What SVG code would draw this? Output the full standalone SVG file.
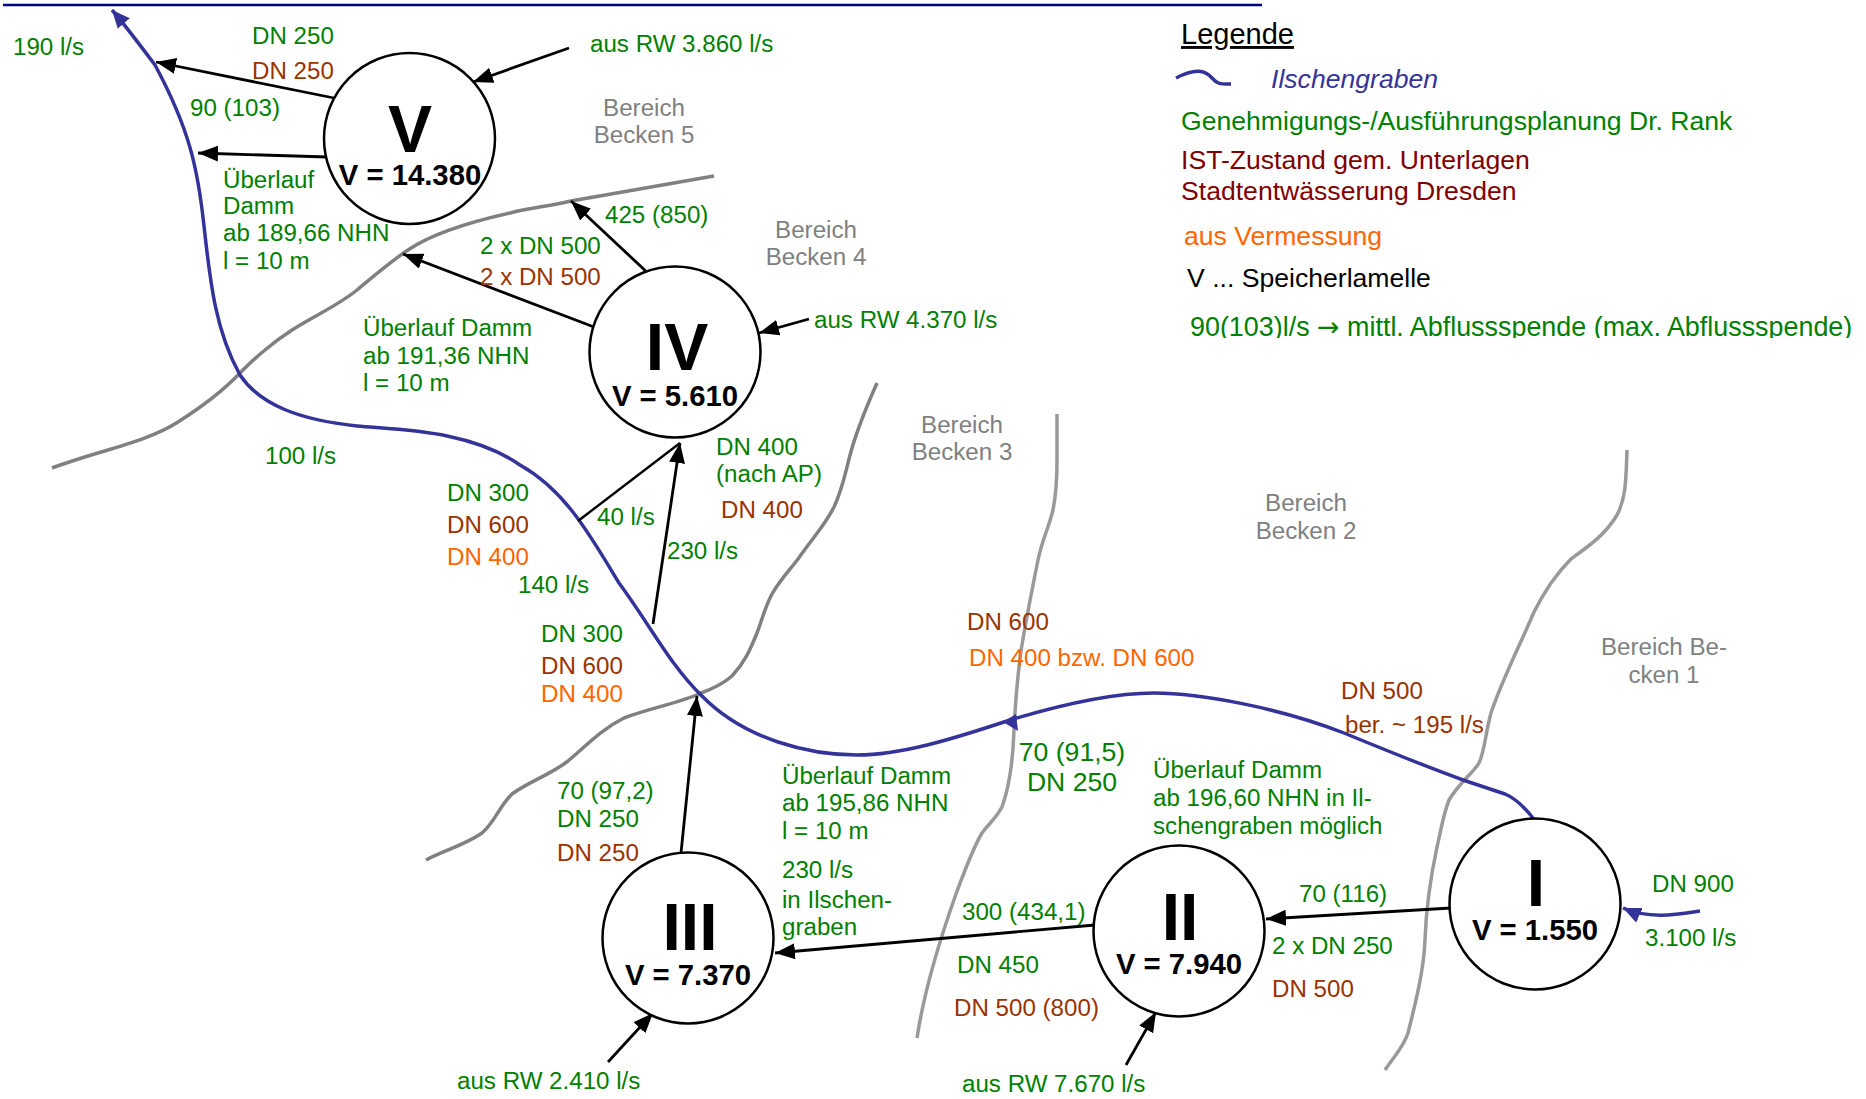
<svg xmlns="http://www.w3.org/2000/svg" width="1866" height="1099" viewBox="0 0 1866 1099">
<style>
text{font-family:"Liberation Sans",Arial,sans-serif;font-size:24.15px}
.g{fill:#008000}.b{fill:#993300}.o{fill:#ff6600}.y{fill:#808080;text-anchor:middle}.r{fill:#800000}
.c{fill:#fff;stroke:#000;stroke-width:2.5}
.n{font-size:66px;font-weight:bold;text-anchor:middle}.v{font-size:29.3px;font-weight:bold;text-anchor:middle}
.a{fill:none;stroke:#000;stroke-width:2.8;marker-end:url(#ah)}
.l{fill:none;stroke:#000;stroke-width:2.4}
.gr{fill:none;stroke:#808080;stroke-width:3.5}.gl{fill:none;stroke:#999;stroke-width:3.5}
.w{fill:none;stroke:#333399;stroke-width:3.5}
#legend text{font-size:26.6px}
</style>
<defs>
<marker id="ah" markerUnits="userSpaceOnUse" markerWidth="22" markerHeight="18" refX="20" refY="8" orient="auto"><path d="M0 0L20 8L0 16z" fill="#000"/></marker>
<marker id="bh" markerUnits="userSpaceOnUse" markerWidth="20" markerHeight="18" refX="18" refY="8" orient="auto"><path d="M0 0L18 8L0 16z" fill="#333399"/></marker>
<clipPath id="cl"><rect x="1180" y="300" width="686" height="38"/></clipPath>
</defs>
<rect width="1866" height="1099" fill="#fff"/>
<path d="M3 5H1262" stroke="#000080" stroke-width="2.4" fill="none"/>
<g id="boundaries">
<path class="gr" d="M52 468C100 450 145 443 178 422C200 408 222 392 240 373C248 365 255 358 265 350C300 320 330 312 357 290C375 275 390 262 408 250C430 235 470 222 510 213C530 208 550 206 571 201L714 176"/>
<path class="gr" d="M426 860C445 850 465 845 482 833C495 822 498 808 512 794C528 782 550 775 568 761C585 747 600 730 624 718C650 708 680 703 701 693C715 688 725 682 732 676C745 662 750 650 757 633C762 620 765 607 772 594C780 580 788 572 798 559C815 535 825 525 834 507C842 490 845 475 849 459C855 435 865 410 877 383"/>
<path class="gl" d="M1057 414L1057 460C1057 480 1056 495 1053 510C1048 530 1042 540 1038 560C1030 600 1022 640 1020 659C1016 690 1015 710 1014 730C1013 760 1010 785 1002 807C995 820 990 822 982 833C972 850 965 870 956 894C945 925 925 985 917 1038"/>
<path class="gl" d="M1627 450C1626 480 1626 498 1617 515C1605 535 1590 545 1571 559C1555 575 1545 590 1534 612C1520 645 1502 680 1491 713C1485 735 1485 750 1479 763C1474 772 1460 782 1449 800C1443 815 1440 835 1437 847C1430 880 1426 910 1425 940C1424 970 1415 1005 1408 1033C1403 1048 1395 1055 1385 1070"/>
</g>
<g id="connectors">
<path class="w" style="marker-end:url(#bh)" d="M1533 818C1525 808 1515 798 1505 794L1466 781C1430 768 1390 752 1344 733C1280 708 1200 693 1154 693C1110 693 1050 708 1010 720C950 740 900 755 857 755C810 755 745 740 702 696C670 665 650 625 619 583C590 535 565 490 520 465C470 430 400 430 357 426C300 420 260 405 240 375C215 330 210 280 204 226C198 170 190 130 155 65C140 45 125 25 112 10"/>
<path fill="#333399" d="M1003 722L1016 714L1018 731z"/>
<path class="w" style="marker-end:url(#bh)" d="M1700 911C1680 914 1650 920 1623 908"/>
<path class="a" d="M334 98L156 62"/>
<path class="a" d="M327 157L198 153"/>
<path class="a" d="M569 48L473 82"/>
<path class="a" d="M650 275L571 201"/>
<path class="a" d="M594 327L403 254"/>
<path class="a" d="M809 319L759 333"/>
<path class="l" d="M578 521L680 443"/>
<path class="a" d="M653 624L680 443"/>
<path class="a" d="M681 853L697 696"/>
<path class="a" d="M608 1062L653 1013"/>
<path class="a" d="M1095 925L775 953"/>
<path class="a" d="M1126 1065L1156 1012"/>
<path class="a" d="M1451 908L1266 919"/>
</g>
<g id="node-v"><circle class="c" cx="409.5" cy="138.5" r="85.5"/><text class="n" x="410" y="152">V</text><text class="v" x="410" y="185">V = 14.380</text></g>
<g id="node-iv"><circle class="c" cx="675" cy="352" r="85.5"/><text class="n" x="677" y="370">IV</text><text class="v" x="675" y="406">V = 5.610</text></g>
<g id="node-iii"><circle class="c" cx="688" cy="938" r="85.5"/><text class="n" x="690" y="950">III</text><text class="v" x="688" y="985">V = 7.370</text></g>
<g id="node-ii"><circle class="c" cx="1179" cy="931" r="85.5"/><text class="n" x="1180" y="940">II</text><text class="v" x="1179" y="974">V = 7.940</text></g>
<g id="node-i"><circle class="c" cx="1535" cy="904" r="85.5"/><text class="n" x="1536" y="906">I</text><text class="v" x="1535" y="940">V = 1.550</text></g>
<g id="labels" transform="translate(0 0.3)">
<text class="g" x="13" y="55">190 l/s</text>
<text class="g" x="252" y="44">DN 250</text>
<text class="b" x="252" y="79">DN 250</text>
<text class="g" x="190" y="116">90 (103)</text>
<text class="g" x="590" y="52">aus RW 3.860 l/s</text>
<text class="y" x="644" y="116">Bereich</text><text class="y" x="644" y="143">Becken 5</text>
<text class="g" x="223" y="188">Überlauf</text><text class="g" x="223" y="214">Damm</text><text class="g" x="223" y="241">ab 189,66 NHN</text><text class="g" x="223" y="269">l = 10 m</text>
<text class="g" x="605" y="223">425 (850)</text>
<text class="g" x="480" y="254">2 x DN 500</text>
<text class="b" x="480" y="285">2 x DN 500</text>
<text class="y" x="816" y="238">Bereich</text><text class="y" x="816" y="265">Becken 4</text>
<text class="g" x="363" y="336">Überlauf Damm</text><text class="g" x="363" y="364">ab 191,36 NHN</text><text class="g" x="363" y="391">l = 10 m</text>
<text class="g" x="814" y="328">aus RW 4.370 l/s</text>
<text class="g" x="265" y="464">100 l/s</text>
<text class="g" x="716" y="455">DN 400</text><text class="g" x="716" y="482">(nach AP)</text>
<text class="b" x="721" y="518">DN 400</text>
<text class="y" x="962" y="433">Bereich</text><text class="y" x="962" y="460">Becken 3</text>
<text class="g" x="447" y="501">DN 300</text><text class="b" x="447" y="533">DN 600</text><text class="o" x="447" y="565">DN 400</text>
<text class="g" x="597" y="525">40 l/s</text>
<text class="g" x="667" y="559">230 l/s</text>
<text class="g" x="518" y="593">140 l/s</text>
<text class="g" x="541" y="642">DN 300</text><text class="b" x="541" y="674">DN 600</text><text class="o" x="541" y="702">DN 400</text>
<text class="y" x="1306" y="511">Bereich</text><text class="y" x="1306" y="539">Becken 2</text>
<text class="b" x="967" y="630">DN 600</text>
<text class="o" x="969" y="666">DN 400 bzw. DN 600</text>
<text class="b" x="1341" y="699">DN 500</text>
<text class="b" x="1345" y="733">ber. ~ 195 l/s</text>
<text class="y" x="1664" y="655">Bereich Be-</text><text class="y" x="1664" y="683">cken 1</text>
<text class="g" x="1072" y="761" style="font-size:26.6px;text-anchor:middle">70 (91,5)</text><text class="g" x="1072" y="791" style="font-size:26.6px;text-anchor:middle">DN 250</text>
<text class="g" x="1153" y="778">Überlauf Damm</text><text class="g" x="1153" y="806">ab 196,60 NHN in Il-</text><text class="g" x="1153" y="834">schengraben möglich</text>
<text class="g" x="782" y="784">Überlauf Damm</text><text class="g" x="782" y="811">ab 195,86 NHN</text><text class="g" x="782" y="839">l = 10 m</text>
<text class="g" x="782" y="878">230 l/s</text><text class="g" x="782" y="908">in Ilschen-</text><text class="g" x="782" y="935">graben</text>
<text class="g" x="557" y="799">70 (97,2)</text><text class="g" x="557" y="827">DN 250</text><text class="b" x="557" y="861">DN 250</text>
<text class="g" x="1299" y="902">70 (116)</text>
<text class="g" x="1652" y="892">DN 900</text>
<text class="g" x="1645" y="946">3.100 l/s</text>
<text class="g" x="1272" y="954">2 x DN 250</text><text class="b" x="1272" y="997">DN 500</text>
<text class="g" x="962" y="920">300 (434,1)</text>
<text class="g" x="957" y="973">DN 450</text><text class="b" x="954" y="1016">DN 500 (800)</text>
<text class="g" x="457" y="1089">aus RW 2.410 l/s</text>
<text class="g" x="962" y="1092">aus RW 7.670 l/s</text>
</g>
<g id="legend">
<text x="1181" y="44" style="font-size:29px;text-decoration:underline">Legende</text>
<path d="M1176 78C1195 68 1205 70 1212 78C1218 85 1222 84 1231 84" fill="none" stroke="#333399" stroke-width="3.5"/>
<text x="1271" y="88" style="font-style:italic;fill:#333399">Ilschengraben</text>
<text class="g" x="1181" y="130">Genehmigungs-/Ausführungsplanung Dr. Rank</text>
<text class="r" x="1181" y="169">IST-Zustand gem. Unterlagen</text>
<text class="r" x="1181" y="200">Stadtentwässerung Dresden</text>
<text class="o" x="1184" y="245">aus Vermessung</text>
<text x="1187" y="287">V ... Speicherlamelle</text>
<text class="g" x="1190" y="336" clip-path="url(#cl)" style="font-size:26.9px">90(103)l/s <tspan style="font-family:'DejaVu Sans',sans-serif">→</tspan> mittl. Abflussspende (max. Abflussspende)</text>
</g>
</svg>
